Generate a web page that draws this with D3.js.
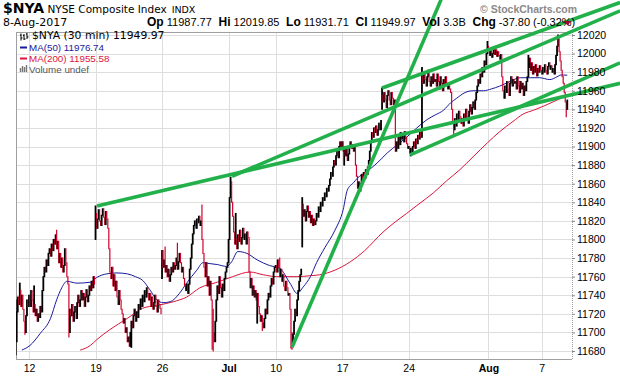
<!DOCTYPE html>
<html><head><meta charset="utf-8">
<script src="https://cdn.jsdelivr.net/npm/d3@7"></script>
<style>body{margin:0;background:#fff}svg{display:block}</style>
</head><body>
<svg id="c" width="620" height="376"></svg>
<script>
// ---------- DATA ----------
// 30-minute closes, one array per trading day (13 bars; Jul 3 half day = 7 bars)
const dayLabels = ["Jun 9","Jun 12","Jun 13","Jun 14","Jun 15","Jun 16","Jun 19","Jun 20","Jun 21","Jun 22","Jun 23","Jun 26","Jun 27","Jun 28","Jun 29","Jun 30","Jul 3","Jul 5","Jul 6","Jul 7","Jul 10","Jul 11","Jul 12","Jul 13","Jul 14","Jul 17","Jul 18","Jul 19","Jul 20","Jul 21","Jul 24","Jul 25","Jul 26","Jul 27","Jul 28","Jul 31","Aug 1","Aug 2","Aug 3","Aug 4","Aug 7","Aug 8"];
const dayCloses = [
[11690,11722,11738,11730,11745,11728,11740,11725,11712,11700,11718,11735,11728],
[11740,11728,11745,11735,11722,11730,11718,11725,11712,11720,11716,11728,11722],
[11745,11760,11770,11765,11778,11772,11785,11790,11782,11795,11788,11800,11795],
[11805,11790,11798,11775,11785,11770,11780,11765,11772,11790,11775,11760,11752],
[11700,11725,11718,11730,11712,11722,11728,11715,11732,11740,11728,11735,11745],
[11735,11742,11728,11738,11746,11733,11740,11750,11745,11755,11748,11760,11752],
[11828,11812,11822,11832,11820,11815,11826,11833,11824,11816,11830,11822,11812],
[11790,11765,11758,11770,11750,11762,11745,11755,11738,11730,11745,11735,11725],
[11720,11710,11715,11700,11705,11690,11695,11685,11700,11712,11705,11718,11725],
[11712,11722,11716,11730,11725,11736,11728,11740,11733,11745,11738,11748,11742],
[11735,11742,11728,11738,11725,11732,11740,11728,11722,11735,11730,11726,11720],
[11788,11770,11778,11765,11772,11760,11768,11755,11762,11770,11765,11775,11768],
[11772,11780,11768,11776,11785,11775,11765,11770,11758,11750,11745,11752,11742],
[11752,11768,11780,11795,11806,11815,11820,11812,11822,11818,11825,11815,11820],
[11800,11785,11770,11760,11775,11750,11760,11740,11755,11735,11725,11700,11690],
[11712,11735,11750,11742,11760,11748,11738,11752,11745,11758,11765,11770,11775],
[11800,11845,11862,11840,11825,11808,11795],
[11800,11790,11805,11798,11810,11795,11802,11812,11800,11806,11795,11808,11802],
[11765,11748,11758,11740,11750,11738,11745,11735,11742,11728,11720,11712,11718],
[11710,11705,11715,11725,11720,11735,11742,11738,11750,11758,11752,11765,11770],
[11772,11765,11778,11770,11760,11768,11755,11762,11750,11745,11755,11748,11740],
[11742,11725,11700,11686,11698,11712,11725,11718,11735,11745,11755,11762,11768],
[11838,11825,11832,11820,11830,11836,11824,11830,11818,11826,11815,11822,11816],
[11820,11828,11824,11835,11830,11840,11836,11845,11842,11850,11846,11855,11852],
[11858,11865,11872,11868,11878,11885,11880,11890,11895,11888,11900,11905,11898],
[11905,11895,11900,11890,11898,11885,11892,11900,11905,11898,11902,11895,11900],
[11880,11868,11855,11862,11852,11860,11870,11864,11872,11866,11875,11870,11878],
[11885,11895,11905,11915,11910,11920,11915,11922,11912,11918,11925,11918,11928],
[11955,11948,11958,11950,11942,11955,11960,11950,11945,11958,11952,11945,11950],
[11895,11905,11898,11910,11902,11915,11908,11912,11905,11916,11910,11903,11898],
[11900,11893,11898,11892,11900,11905,11898,11908,11903,11912,11908,11915,11910],
[11975,11968,11980,11972,11965,11975,11982,11970,11965,11975,11968,11978,11970],
[11972,11965,11978,11970,11962,11975,11968,11960,11972,11966,11975,11968,11962],
[11968,11962,11958,11940,11925,11918,11930,11922,11935,11928,11938,11932,11925],
[11930,11922,11935,11928,11940,11932,11925,11938,11945,11935,11942,11948,11940],
[11950,11958,11965,11972,11968,11978,11975,11985,11980,11992,11988,12000,12008],
[12005,11998,12003,11996,12000,12006,11999,12004,11997,12002,11998,11994,11999],
[11975,11960,11952,11965,11958,11970,11962,11955,11968,11975,11965,11972,11968],
[11970,11962,11975,11965,11958,11970,11962,11968,11955,11965,11960,11970,11975],
[11985,11995,11982,11990,11978,11986,11980,11988,11976,11984,11980,11987,11982],
[11978,11985,11980,11988,11982,11978,11986,11990,11983,11987,11980,11984,11978],
[11988,11998,12008,12016,12002,11992,11982,11975,11968,11958,11948,11940,11949.97]
];
// bars that opened away from the prior close: [bar index, open]
const gapOpens = [[78,11800],[143,11758],[280,11792],[358,11940]];
// intrabar extremes beyond open/close: [bar index, price]
const wickHigh = [[0,11735],[4,11753],[18,11750],[40,11810],[78,11836],[91,11800],[146,11792],[158,11796],[182,11837],[210,11867],[215,11828],[228,11775],[258,11780],[280,11845],[358,11963],[397,11985],[461,12013],[501,11998],[530,12020]];
const wickLow = [[0,11676],[9,11698],[52,11695],[113,11684],[192,11682],[193,11680],[236,11710],[241,11702],[269,11683],[270,11682],[321,11880],[386,11890],[428,11913],[538,11932]];
// moving averages sampled at bar indexes
const ma50Bars = [6,14,24,34,40,45,50,60,73,79,89,99,109,117,124,131,138,144,151,160,167,177,183,190,197,206,211,217,226,236,248,258,268,275,281,288,294,302,312,320,324,330,334,343,353,363,373,382,392,402,410,418,425,431,439,447,457,465,473,483,493,503,512,522,529,533,539];
const ma50Vals = [11681,11686,11699,11715,11735,11748,11755,11753,11754,11759,11763,11764,11763,11760,11756,11746,11735,11732,11733,11742,11753,11767,11775,11774,11773,11771,11776,11787,11785,11778,11772,11769,11753,11742,11749,11760,11775,11791,11810,11832,11853,11861,11866,11873,11882,11893,11902,11910,11920,11929,11934,11939,11947,11952,11958,11960,11960,11962,11965,11970,11974,11974,11974,11972,11975,11977,11976.74];
const ma200Bars = [63,73,79,92,109,124,138,154,167,180,197,212,229,242,255,275,288,297,312,327,341,359,371,382,395,408,421,434,447,461,473,486,496,506,517,529,539];
const ma200Vals = [11681,11686,11692,11703,11715,11726,11729,11733,11738,11748,11754,11760,11765,11762,11760,11760,11761,11762,11767,11776,11788,11808,11819,11828,11839,11850,11863,11875,11889,11904,11916,11927,11935,11939,11944,11950,11955.58];
// trendlines: [start bar, start price, end bar, end price]
const trendLines = [
  [79.5,11836,590.6,11968],
  [211.4,11868,590.6,12046],
  [358,11963,590.6,12055],
  [385.4,11891,590.6,11990],
  [270,11684,415.7,12058]
];
const xTickBars = [13,78,143,208,254,319,384,462,514];
const xTickLabels = ["12","19","26","Jul","10","17","24","Aug","7"];
const yTicks = [11680,11700,11720,11740,11760,11780,11800,11820,11840,11860,11880,11900,11920,11940,11960,11980,12000,12020];

// ---------- BUILD BARS ----------
const closes = dayCloses.flat();
const gapMap = new Map(gapOpens), hiMap = new Map(wickHigh), loMap = new Map(wickLow);
const bars = closes.map((c,i)=>{
  const prev = i>0 ? closes[i-1] : c;
  const o = gapMap.has(i) ? gapMap.get(i) : prev;
  let h = Math.max(o,c), l = Math.min(o,c);
  if (hiMap.has(i)) h = Math.max(h, hiMap.get(i));
  if (loMap.has(i)) l = Math.min(l, loMap.get(i));
  return {i, o, c, h, l, up: c >= prev};
});

// ---------- CHART ----------
const svg = d3.select("#c");
const L=16, R=572, T=32, B=359;
const x = d3.scaleLinear().domain([0,544]).range([15.7,572.4]);
const y = d3.scaleLinear().domain([11671.4,12023.2]).range([B,T]);

svg.append("defs").append("clipPath").attr("id","pc").append("rect")
  .attr("x",L).attr("y",T).attr("width",R-L).attr("height",B-T);

// grid
const g = svg.append("g");
g.selectAll(".hg").data(yTicks).join("line")
  .attr("x1",L).attr("x2",R).attr("y1",d=>Math.round(y(d))+0.5).attr("y2",d=>Math.round(y(d))+0.5)
  .attr("stroke","#dedede").attr("stroke-width",1);
g.selectAll(".vg").data(xTickBars).join("line")
  .attr("y1",T).attr("y2",B).attr("x1",d=>Math.round(x(d))+0.5).attr("x2",d=>Math.round(x(d))+0.5)
  .attr("stroke","#dedede").attr("stroke-width",1);

// frame
svg.append("line").attr("x1",L+0.5).attr("x2",L+0.5).attr("y1",T).attr("y2",B).attr("stroke","#a0a0a0");
svg.append("line").attr("x1",L).attr("x2",R).attr("y1",B+0.5).attr("y2",B+0.5).attr("stroke","#a0a0a0");
svg.append("line").attr("x1",L).attr("x2",R).attr("y1",T+0.5).attr("y2",T+0.5).attr("stroke","#a0a0a0");
svg.append("line").attr("x1",R+0.5).attr("x2",R+0.5).attr("y1",T).attr("y2",B).attr("stroke","#a0a0a0").attr("stroke-dasharray","1,1");

const plot = svg.append("g").attr("clip-path","url(#pc)");

// MA lines
const lineGen = d3.line().x(d=>x(d[0])).y(d=>y(d[1])).curve(d3.curveMonotoneX);
plot.append("path").datum(d3.zip(ma200Bars,ma200Vals)).attr("d",lineGen)
  .attr("fill","none").attr("stroke","#dc143c").attr("stroke-width",1);
plot.append("path").datum(d3.zip(ma50Bars,ma50Vals)).attr("d",lineGen)
  .attr("fill","none").attr("stroke","#1a1a9c").attr("stroke-width",1);

// price bars
plot.selectAll(".bar").data(bars).join("line")
  .attr("x1",d=>x(d.i)).attr("x2",d=>x(d.i))
  .attr("y1",d=>y(d.h)-0.5).attr("y2",d=>y(d.l)+0.5)
  .attr("stroke",d=>d.up?"#000":"#d0002c")
  .attr("stroke-width",d=>d.up?1.8:1.2);

// trend lines (not clipped)
svg.selectAll(".tl").data(trendLines).join("line")
  .attr("x1",d=>x(d[0])).attr("y1",d=>y(d[1])).attr("x2",d=>x(d[2])).attr("y2",d=>y(d[3]))
  .attr("stroke","#22b04b").attr("stroke-width",3.6).attr("stroke-linecap","butt");

// y axis (right)
const yAxis = d3.axisRight(y).tickValues(yTicks).tickSize(3).tickPadding(2).tickFormat(d3.format("d"));
const ya = svg.append("g").attr("transform",`translate(${R},0)`).call(yAxis);
ya.select(".domain").remove();
ya.selectAll("line").attr("stroke","#888");
ya.selectAll("text").attr("font-family","Liberation Sans, Arial, sans-serif").attr("font-size",10.5).attr("fill","#000");

// x axis
const xAxis = d3.axisBottom(x).tickValues(xTickBars).tickSize(0).tickPadding(6)
  .tickFormat((d,i)=>xTickLabels[i]);
const xa = svg.append("g").attr("transform",`translate(0,${B})`).call(xAxis);
xa.select(".domain").remove();
xa.selectAll("text").attr("font-family","Liberation Sans, Arial, sans-serif").attr("font-size",10.5).attr("fill","#000")
  .attr("font-weight",(d,i)=>/[A-Za-z]/.test(xTickLabels[i])?"bold":"normal");

// ---------- HEADER ----------
const hdr = svg.append("g");
const t1 = hdr.append("text").attr("x",3).attr("y",13).attr("font-family","DejaVu Sans, Verdana, sans-serif");
t1.append("tspan").text("$NYA").attr("font-weight","bold").attr("font-size",14);
t1.append("tspan").text(" NYSE Composite Index").attr("font-size",10.5);
t1.append("tspan").text(" INDX").attr("font-size",9.5).attr("dx",2);
hdr.append("text").attr("x",3).attr("y",26).attr("font-family","DejaVu Sans, Verdana, sans-serif").attr("font-size",11).text("8-Aug-2017");

const stats = [["Op","11987.77"],["Hi","12019.85"],["Lo","11931.71"],["Cl","11949.97"],["Vol","3.3B"],["Chg","-37.80 (-0.32%)"]];
const t2 = hdr.append("text").attr("x",147).attr("y",26).attr("font-family","Liberation Sans, Arial, sans-serif").attr("font-size",11);
stats.forEach(([k,v],j)=>{
  t2.append("tspan").text((j?"  ":"")+k).attr("font-weight","bold").attr("font-size",12).attr("xml:space","preserve");
  t2.append("tspan").text(" "+v).attr("xml:space","preserve");
});
hdr.append("path").attr("d","M564,21 L571,21 L567.5,25.5 Z").attr("fill","#a8002a");
hdr.append("text").attr("x",480).attr("y",13).attr("font-family","Liberation Sans, Arial, sans-serif")
  .attr("font-size",10.5).attr("fill","#8a8a8a").attr("font-weight","bold").text("© StockCharts.com");

// ---------- LEGEND ----------
const lg = svg.append("g");
const legendRows = [
  {label:"$NYA (30 min) 11949.97", color:"#000", font:"DejaVu Sans, Verdana, sans-serif", size:10.8, y:39.3},
  {label:"MA(50) 11976.74", color:"#1a1a9c", font:"Liberation Sans, Arial, sans-serif", size:9.8, y:51.3},
  {label:"MA(200) 11955.58", color:"#dc143c", font:"Liberation Sans, Arial, sans-serif", size:9.8, y:62.3},
  {label:"Volume undef", color:"#555", font:"Liberation Sans, Arial, sans-serif", size:9.8, y:73.2}
];
lg.append("path").attr("d","M21,33.5v7M20,35h1M21,38h1.5M24,34v6M23,35.5h1M24,39h1.5M27,33v6M26,34h1M27,37h1.5").attr("stroke","#000").attr("fill","none");
lg.append("line").attr("x1",20).attr("x2",27).attr("y1",47.5).attr("y2",47.5).attr("stroke","#1a1a9c").attr("stroke-width",2);
lg.append("line").attr("x1",20).attr("x2",27).attr("y1",58.5).attr("y2",58.5).attr("stroke","#dc143c").attr("stroke-width",2);
lg.append("path").attr("d","M20.5,72v-4M22.5,72v-6M24.5,72v-5M26.5,72v-7").attr("stroke","#777").attr("stroke-width",1.4);
lg.selectAll(".lt").data(legendRows).join("text")
  .attr("x",(d,i)=>i?29:32).attr("y",d=>d.y)
  .attr("font-family",d=>d.font).attr("font-size",d=>d.size).attr("fill",d=>d.color)
  .text(d=>d.label);
</script>
</body></html>
